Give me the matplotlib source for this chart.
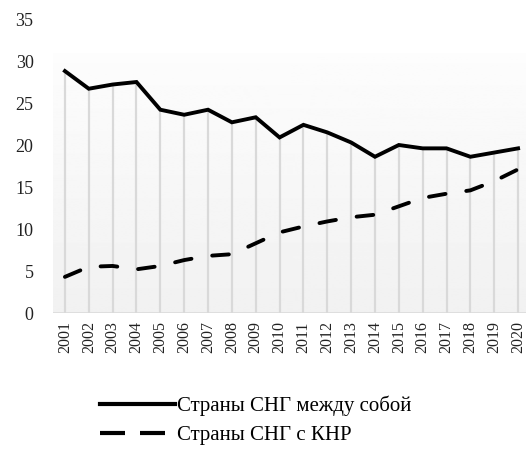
import numpy as np
import matplotlib.pyplot as plt
from matplotlib.lines import Line2D

# =========================
# DATA
# =========================
years = [str(y) for y in range(2001, 2021)]
cis_internal = [28.8, 26.7, 27.2, 27.5, 24.2, 23.6, 24.2, 22.7, 23.3, 20.9,
                22.4, 21.5, 20.3, 18.6, 20.0, 19.6, 19.6, 18.6, 19.1, 19.6]
cis_china = [4.3, 5.5, 5.6, 5.2, 5.6, 6.3, 6.8, 7.0, 8.3, 9.6,
             10.3, 10.9, 11.4, 11.7, 12.7, 13.7, 14.2, 14.6, 15.7, 17.1]
labels = ["Страны СНГ между собой", "Страны СНГ с КНР"]
yticks = [0, 5, 10, 15, 20, 25, 30, 35]

# =========================
# STYLE
# =========================
plt.rcParams['font.family'] = ['Liberation Serif', 'DejaVu Serif']
GRID = "#d9d9d9"

W, H = 526, 455
fig = plt.figure(figsize=(W / 100, H / 100), dpi=100)
ax = fig.add_axes([53 / W, (H - 313) / H, (530 - 53) / W, 294 / H])

x = np.arange(len(years))

# plot area fill (light gradient, a bit darker at the bottom)
grad = np.linspace(0.99, 0.945, 256).reshape(-1, 1)
ax.imshow(grad, cmap="gray", vmin=0, vmax=1, aspect="auto",
          extent=[-0.5, len(years) - 0.5, 0, 30.9], origin="upper", zorder=0)

# drop lines from axis to the upper series
ax.vlines(x, 0, cis_internal, color=GRID, lw=1.6, zorder=1)
ax.axhline(0, color=GRID, lw=1.8, zorder=1)

ax.plot(x, cis_internal, color="black", lw=2.8, solid_joinstyle="miter", zorder=3)
ax.plot(x, cis_china, color="black", lw=2.8, linestyle=(0, (4.3, 5.4)),
        dash_capstyle="round", zorder=3)

ax.set_xlim(-0.5, len(years) - 0.5)
ax.set_ylim(0, 35)
ax.set_xticks(x)
ax.set_xticklabels(years, rotation=90, fontsize=11.5)
ax.set_yticks(yticks)
ax.set_yticklabels([str(v) for v in yticks], fontsize=13)
ax.tick_params(axis="both", length=0, colors="#222222")
ax.tick_params(axis="y", pad=14)
ax.tick_params(axis="x", pad=6)
for s in ax.spines.values():
    s.set_visible(False)

# legend below the plot
handles = [Line2D([], [], color="black", lw=3),
           Line2D([], [], color="black", lw=3, linestyle=(0, (6, 3.6)))]
fig.legend(handles, labels, loc="upper left", bbox_to_anchor=(100 / W, 1 - 396 / H),
           frameon=False, fontsize=15, handlelength=3.6, handletextpad=0.1,
           labelspacing=0.42, borderaxespad=0, borderpad=0)

fig.savefig("out.png", dpi=100)
